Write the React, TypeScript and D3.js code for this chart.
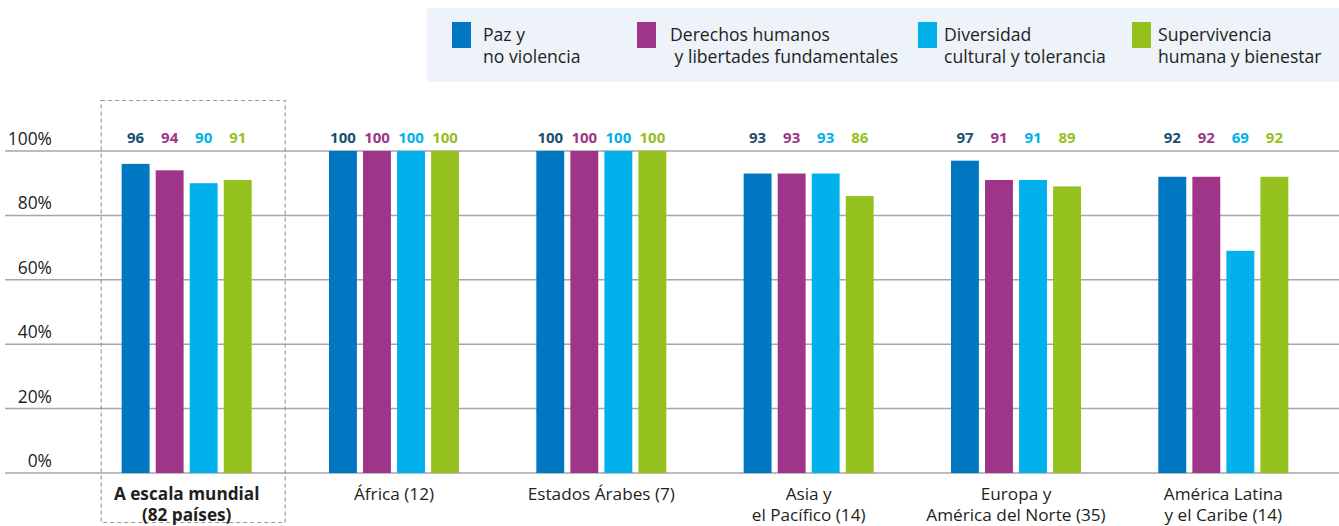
import React from 'react';
import * as d3 from 'd3';

const categories = ['mundial', 'africa', 'arabes', 'asia', 'europa', 'latam'];
const categoryLines = [
  ['A escala mundial', '(82 países)'],
  ['África (12)'],
  ['Estados Árabes (7)'],
  ['Asia y', 'el Pacífico (14)'],
  ['Europa y', 'América del Norte (35)'],
  ['América Latina', 'y el Caribe (14)'],
];
const seriesKeys = ['paz', 'derechos', 'diversidad', 'supervivencia'];
const seriesNames = [
  ['Paz y', 'no violencia'],
  ['Derechos humanos', ' y libertades fundamentales'],
  ['Diversidad', 'cultural y tolerancia'],
  ['Supervivencia', 'humana y bienestar'],
];
const paz = [96, 100, 100, 93, 97, 92];
const derechos = [94, 100, 100, 93, 91, 92];
const diversidad = [90, 100, 100, 93, 91, 69];
const supervivencia = [91, 100, 100, 86, 89, 92];
const yTicks = [0, 20, 40, 60, 80, 100];

const barColors = ['#0077c0', '#9e3589', '#00b1eb', '#95c11f'];
const labelColors = ['#1b4f6e', '#9e3589', '#00b1eb', '#95c11f'];
const legendX = [452, 637, 918, 1132];
const legendTextX = [483, 670, 944, 1158];

const W = 1339;
const H = 526;
const font = '"Open Sans", "Noto Sans", sans-serif';

export default function App() {
  const series = [paz, derechos, diversidad, supervivencia];

  const x = d3.scaleBand<string>().domain(categories).range([83, 1327]);
  const inner = d3.scaleBand<string>().domain(seriesKeys).range([-65, 65]).paddingInner(0.18);
  const y = d3.scaleLinear().domain([0, 100]).range([473, 151]);

  const cx = (c: string) => (x(c) ?? 0) + x.bandwidth() / 2;
  const boxCx = cx(categories[0]);

  return (
    <svg width={W} height={H} style={{ position: 'absolute', left: 0, top: 0 }} fontFamily={font}>
      {/* legend */}
      <rect x={427} y={8} width={W - 427} height={74} fill="#eef2f9" />
      {seriesNames.map((lines, i) => (
        <g key={i}>
          <rect x={legendX[i]} y={22} width={19} height={26} fill={barColors[i]} />
          {lines.map((t, j) => (
            <text key={j} x={legendTextX[i]} y={41 + j * 22} fontSize={17.6} fill="#231f20" xmlSpace="preserve">
              {t}
            </text>
          ))}
        </g>
      ))}

      {/* grid */}
      {yTicks.map((t) => (
        <g key={t}>
          <line x1={5} x2={W} y1={y(t)} y2={y(t)} stroke="#a6a6a6" strokeWidth={1.5} />
          <text x={52} y={y(t) - 6} textAnchor="end" fontSize={17.4} fill="#231f20">
            {t}%
          </text>
        </g>
      ))}

      {/* highlight box */}
      <rect
        x={boxCx - 85.5}
        y={100.5}
        width={184}
        height={422}
        fill="none"
        stroke="#999"
        strokeDasharray="4,3"
        strokeWidth={1.2}
      />

      {/* bars */}
      {categories.map((c, ci) => (
        <g key={c} transform={`translate(${cx(c)},0)`}>
          {seriesKeys.map((k, si) => {
            const v = series[si][ci];
            const bx = inner(k) ?? 0;
            return (
              <g key={k}>
                <rect x={bx} y={y(v)} width={inner.bandwidth()} height={y(0) - y(v)} fill={barColors[si]} />
                <text
                  x={bx + inner.bandwidth() / 2}
                  y={143}
                  textAnchor="middle"
                  fontSize={15}
                  fontWeight="bold"
                  fill={labelColors[si]}
                >
                  {v}
                </text>
              </g>
            );
          })}
          {categoryLines[ci].map((t, j) => (
            <text
              key={j}
              x={0}
              y={500 + j * 21}
              textAnchor="middle"
              fontSize={17.2}
              fontWeight={ci === 0 ? 'bold' : 'normal'}
              fill="#231f20"
            >
              {t}
            </text>
          ))}
        </g>
      ))}
    </svg>
  );
}
